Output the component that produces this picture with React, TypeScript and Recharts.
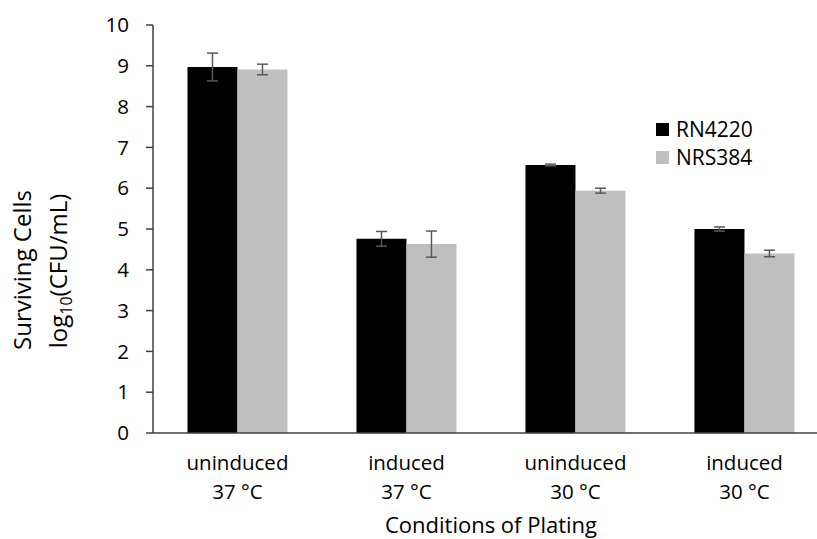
import { BarChart, Bar, XAxis, YAxis, ErrorBar, Legend } from "recharts";

const categoryTop = ["uninduced", "induced", "uninduced", "induced"];
const categoryBottom = ["37 °C", "37 °C", "30 °C", "30 °C"];
const rn4220 = [8.97, 4.76, 6.57, 5.0];
const rn4220Err = [0.34, 0.18, 0.02, 0.05];
const nrs384 = [8.91, 4.63, 5.94, 4.4];
const nrs384Err = [0.13, 0.32, 0.06, 0.08];
const yTicks = [0, 1, 2, 3, 4, 5, 6, 7, 8, 9, 10];

const data = categoryTop.map((top, i) => ({
  name: top + " " + categoryBottom[i],
  top,
  bottom: categoryBottom[i],
  rn: rn4220[i],
  rnErr: rn4220Err[i],
  nrs: nrs384[i],
  nrsErr: nrs384Err[i],
}));

const FONT = "'Open Sans', Lato, sans-serif";
const BLACK = "#000000";
const GRAY = "#bfbfbf";
const AXIS = "#404040";

const CategoryTick = (props: any) => {
  const { x, payload } = props;
  const row = data[payload.index];
  return (
    <g>
      <text x={x} y={470} textAnchor="middle" fontSize={20.5} fontFamily={FONT} fill="#000">
        {row.top}
      </text>
      <text x={x} y={499} textAnchor="middle" fontSize={20.5} fontFamily={FONT} fill="#000">
        {row.bottom}
      </text>
    </g>
  );
};

const YLabel = () => (
  <g>
    <text
      x={0}
      y={0}
      transform="translate(31,270) rotate(-90)"
      textAnchor="middle"
      fontSize={24}
      fontFamily={FONT}
      fill="#000"
    >
      Surviving Cells
    </text>
    <text
      x={0}
      y={0}
      transform="translate(67,271) rotate(-90)"
      textAnchor="middle"
      fontSize={24}
      fontFamily={FONT}
      fill="#000"
    >
      log
      <tspan fontSize={16} dy={5}>
        10
      </tspan>
      <tspan dy={-5}>(CFU/mL)</tspan>
    </text>
  </g>
);

const XLabel = () => (
  <text x={491} y={533} textAnchor="middle" fontSize={22} fontFamily={FONT} fill="#000">
    Conditions of Plating
  </text>
);

const LegendBox = () => (
  <div style={{ fontFamily: FONT, fontSize: 21, color: "#000", lineHeight: "28px" }}>
    {[
      { label: "RN4220", color: BLACK },
      { label: "NRS384", color: GRAY },
    ].map((item) => (
      <div key={item.label} style={{ display: "flex", alignItems: "center" }}>
        <span
          style={{
            display: "inline-block",
            width: 13,
            height: 13,
            background: item.color,
            marginRight: 7,
          }}
        />
        {item.label}
      </div>
    ))}
  </div>
);

export default function App() {
  return (
    <div
      style={{
        position: "absolute",
        left: 0,
        top: 0,
        width: 817,
        height: 539,
        overflow: "hidden",
        background: "#fff",
      }}
    >
      <BarChart
        width={829}
        height={539}
        data={data}
        margin={{ top: 25, right: 0, bottom: 0, left: 0 }}
        barCategoryGap="20.4%"
        barGap={0}
      >
        <XAxis
          dataKey="name"
          height={106}
          tickLine={false}
          axisLine={{ stroke: AXIS, strokeWidth: 1.5 }}
          tick={<CategoryTick />}
          interval={0}
          label={<XLabel />}
        />
        <YAxis
          width={153}
          domain={[0, 10]}
          ticks={yTicks}
          interval={0}
          tickSize={7}
          tickMargin={17}
          axisLine={{ stroke: AXIS, strokeWidth: 1.5 }}
          tickLine={{ stroke: AXIS, strokeWidth: 1.5 }}
          tick={{ fontSize: 20.5, fontFamily: FONT, fill: "#000" }}
          label={<YLabel />}
        />
        <Legend
          layout="horizontal"
          align="center"
          verticalAlign="middle"
          wrapperStyle={{ left: 656, top: 115, width: "auto" }}
          content={<LegendBox />}
        />
        <Bar dataKey="rn" name="RN4220" fill={BLACK} isAnimationActive={false}>
          <ErrorBar dataKey="rnErr" width={5.5} stroke="#595959" strokeWidth={1.5} direction="y" />
        </Bar>
        <Bar dataKey="nrs" name="NRS384" fill={GRAY} isAnimationActive={false}>
          <ErrorBar dataKey="nrsErr" width={5.5} stroke="#595959" strokeWidth={1.5} direction="y" />
        </Bar>
      </BarChart>
    </div>
  );
}
